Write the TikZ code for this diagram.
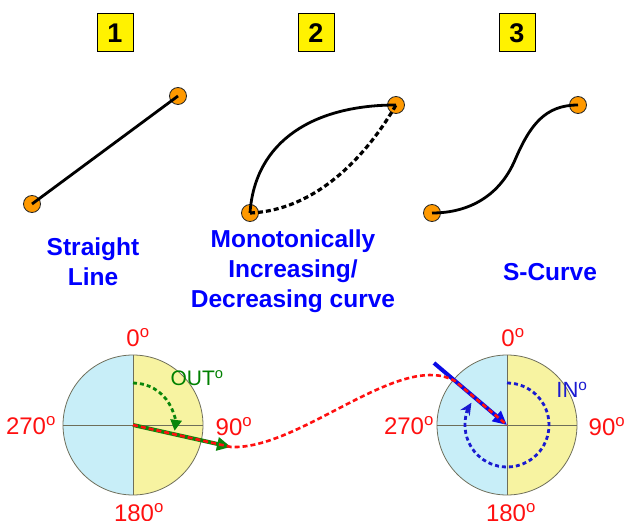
\documentclass[tikz,border=0pt]{standalone}
\usepackage{fontspec}
\setmainfont{Liberation Sans}
\usetikzlibrary{arrows.meta}
\definecolor{dotor}{HTML}{FF9900}
\definecolor{cyfill}{HTML}{C8EEF8}
\definecolor{yefill}{HTML}{F7F3A1}
\definecolor{dialline}{HTML}{6E6E5A}
\definecolor{lblblue}{HTML}{0000FF}
\definecolor{degred}{HTML}{FF1010}
\definecolor{outgreen}{HTML}{008000}
\definecolor{arrgreen}{HTML}{0A860A}
\definecolor{arrblue}{HTML}{0A0AE6}
\definecolor{arcblue}{HTML}{1A1AD0}
\begin{document}
\begin{tikzpicture}[x=1pt,y=-1pt,
  numbox/.style={draw=black, line width=1pt, fill=yellow, minimum width=36pt, minimum height=38pt, inner sep=0pt, font=\fontsize{27}{27}\selectfont\bfseries},
  enddot/.style={circle, draw=black!85, line width=0.8pt, fill=dotor, minimum size=17pt, inner sep=0pt},
  curve/.style={line width=2.8pt, black},
  dcurve/.style={curve, line width=3.2pt, dash pattern=on 5pt off 3pt},
  lbl/.style={text=lblblue, font=\fontsize{24.5}{30}\selectfont\bfseries, align=center, inner sep=0pt},
  deg/.style={text=degred, font=\fontsize{24}{24}\selectfont, inner sep=0pt},
  dial/.style={circle, minimum size=140pt, inner sep=0pt, draw=dialline, line width=0.8pt,
    path picture={\fill[cyfill] (path picture bounding box.north west) rectangle (path picture bounding box.south);
                  \fill[yefill] (path picture bounding box.north) rectangle (path picture bounding box.south east);}},
  cross/.style={draw=dialline, line width=0.8pt},
  garrow/.style={draw=arrgreen, line width=4pt, -{Triangle[length=14pt,width=13pt]}},
  barrow/.style={draw=arrblue, line width=4pt, -{Triangle[length=14pt,width=13pt]}},
  gdash/.style={draw=arrgreen, line width=2.8pt, dash pattern=on 4pt off 3pt, -{Triangle[length=11pt,width=11pt]}},
  bdash/.style={draw=arcblue, line width=2.8pt, dash pattern=on 4pt off 3pt, -{Stealth[length=12pt,width=11pt]}},
  reddash/.style={draw=degred, line width=2.6pt, dash pattern=on 5pt off 3pt}
]
\useasboundingbox (0,0) rectangle (624,521);

% number boxes
\node[numbox] (n1) at (115,33) {1};
\node[numbox] (n2) at (316,33) {2};
\node[numbox] (n3) at (517,33) {3};

% end dots
\node[enddot] (a1) at (32,204) {};
\node[enddot] (b1) at (178,96) {};
\node[enddot] (a2) at (250,213) {};
\node[enddot] (b2) at (396,105) {};
\node[enddot] (a3) at (432,213) {};
\node[enddot] (b3) at (578,105) {};

% curves
\draw[curve] (a1.center) -- (b1.center);
\draw[curve] (a2.center) .. controls (255,140) and (315,105) .. (b2.center);
\draw[dcurve] (a2.center) .. controls (320,210) and (370,150) .. (b2.center);
\draw[curve] (a3.center) .. controls (470,213) and (500,195) .. (515,160) .. controls (530,125) and (545,105) .. (b3.center);

% labels (base anchor = baseline of the last line)
\node[lbl, anchor=base] (t1) at (93,286) {Straight\\Line};
\node[lbl, anchor=base] (t2) at (293,308) {Monotonically\\Increasing/\\Decreasing curve};
\node[lbl, anchor=base] (t3) at (550,281) {S-Curve};

% dials
\node[dial] (L) at (133,425) {};
\node[dial] (R) at (507,425) {};
\draw[cross] (L.north) -- (L.south);
\draw[cross] (L.west) -- (L.east);
\draw[cross] (R.north) -- (R.south);
\draw[cross] (R.west) -- (R.east);

% degree labels
\node[deg] (l0) at (138,338) {0\textsuperscript{o}};
\node[deg] (l270) at (31,426) {270\textsuperscript{o}};
\node[deg] (l90) at (234,427) {90\textsuperscript{o}};
\node[deg] (l180) at (139,513) {180\textsuperscript{o}};
\node[deg] (r0) at (513,338) {0\textsuperscript{o}};
\node[deg] (r270) at (409,426) {270\textsuperscript{o}};
\node[deg] (r90) at (607,427) {90\textsuperscript{o}};
\node[deg] (r180) at (511,513) {180\textsuperscript{o}};

\node[text=outgreen, font=\fontsize{21}{21}\selectfont, inner sep=0pt] (out) at (197,378) {OUT\textsuperscript{o}};
\node[text=arcblue, font=\fontsize{22}{22}\selectfont, inner sep=0pt] (in) at (572,390) {IN\textsuperscript{o}};

% arrows
\coordinate (gtip) at (231,447);
\coordinate (bstart) at (434,363);
\coordinate (join) at (455,381);
\draw[gdash] ([yshift=42pt]L.center) arc[start angle=-90, end angle=8, radius=42];
\draw[garrow] (L.center) -- (gtip);
\draw[bdash] ([yshift=42pt]R.center) arc[start angle=-90, end angle=212, radius=42];
\draw[barrow] (bstart) -- (R.center);
\draw[reddash] (L.center) -- (gtip) .. controls (300,450) and (400,350) .. (join) -- (R.center);
\end{tikzpicture}
\end{document}
